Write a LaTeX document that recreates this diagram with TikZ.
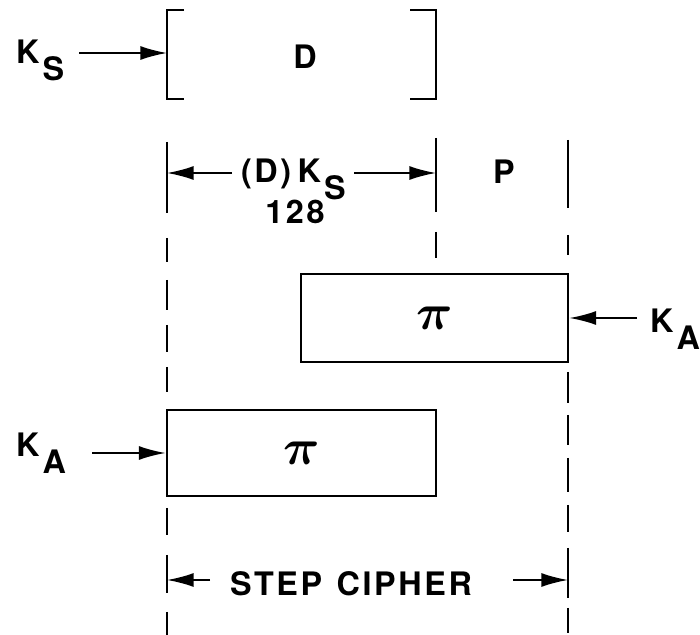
\documentclass[tikz,border=0pt]{standalone}
\usepackage{amsmath}
\usepackage{graphicx}
\usepackage{fontspec}
\setmainfont[LetterSpace=8]{TeX Gyre Heros}
\usepackage{tikz}
\usetikzlibrary{arrows.meta,positioning}

\newcommand{\lowsub}[1]{\kern0.1em\raisebox{-0.5em}{#1}}
\newcommand{\permsym}{\scalebox{1.45}{$\boldsymbol{\pi}$}}

\begin{document}
\begin{tikzpicture}[x=0.025cm, y=-0.025cm, line width=1.6pt,
  every node/.style={font=\fontsize{23}{26}\selectfont\bfseries, inner sep=0pt},
  arr/.style={-{Latex[length=19pt,width=10pt]}, line width=1.3pt},
  perm/.style={draw, line width=2pt, minimum width=6.7cm, minimum height=2.2cm}]
\useasboundingbox (0,0) rectangle (700,635);

% data block in brackets
\draw[line width=2pt] (184,10) -- (167,10) -- (167,99) -- (184,99);
\draw[line width=2pt] (410,10) -- (436,10) -- (436,99) -- (410,99);
\node (data) at (305,57) {D};
\node[anchor=base west] (ks) at (15,64) {K\lowsub{S}};
\coordinate (ksout) at (79,53);
\coordinate (datain) at (167,53);
\draw[arr] (ksout) -- (datain);

% dimension ticks and dashed guides
\foreach \x/\a/\b in {167/142/213, 436/138/212, 568/140/208, 167/555/593, 568/548/598} {
  \draw (\x,\a) -- (\x,\b);
}
\foreach \x/\a/\b in {167/238/262, 167/280/310, 167/325/352, 167/367/392,
                      167/508/535, 167/612/635, 436/232/258,
                      568/235/255, 568/372/403, 568/415/445, 568/458/492,
                      568/505/532, 568/608/633} {
  \draw (\x,\a) -- (\x,\b);
}

% top dimensions
\node[anchor=base west] (dks) at (240,183) {(D)\hspace{0.2em}K\lowsub{S}};
\node (n128) at (295,212) {128};
\node (plain) at (504,172) {P};
\coordinate (dimL) at (167,173);
\coordinate (dimM) at (436,173);
\coordinate (dksL) at (232,173);
\coordinate (dksR) at (354,173);
\draw[arr] (dksL) -- (dimL);
\draw[arr] (dksR) -- (dimM);

% permutation boxes
\node[perm, minimum width=6.675cm] (perm1) at (434.5,318) {\permsym};
\node[perm, minimum width=6.725cm, minimum height=2.15cm] (perm2) at (301.5,453) {\permsym};
\node[anchor=base west] (kar) at (649,333) {K\lowsub{A}};
\node[anchor=base west] (kal) at (15,457) {K\lowsub{A}};
\coordinate (karout) at (637,318);
\coordinate (kalout) at (92,453);
\draw[arr] (karout) -- (perm1.east);
\draw[arr] (kalout) -- (perm2.west);

% step cipher span
\node (step) at (351,584) {STEP\hspace{0.45em}CIPHER};
\coordinate (stepL) at (167,580);
\coordinate (stepR) at (568,580);
\coordinate (stepLout) at (210,580);
\coordinate (stepRout) at (513,580);
\draw[arr] (stepLout) -- (stepL);
\draw[arr] (stepRout) -- (stepR);
\end{tikzpicture}
\end{document}
